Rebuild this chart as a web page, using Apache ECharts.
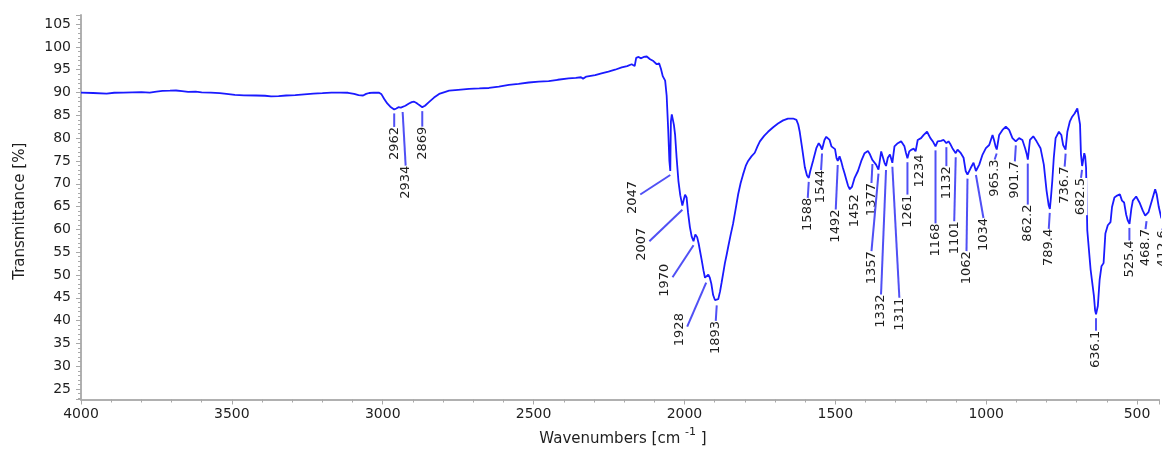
<!DOCTYPE html>
<html>
<head>
<meta charset="utf-8">
<title>IR spectrum</title>
<script src="https://cdn.jsdelivr.net/npm/echarts@6/dist/echarts.min.js"></script>
<style>
  html, body { margin: 0; padding: 0; background: #fff; }
  #chart { width: 1162px; height: 452px; }
</style>
</head>
<body>
<div id="chart"></div>
<script>
// spectrum: wavenumber [cm-1] and transmittance [%]
var waveNumbers = [
  4000, 3960, 3915, 3890, 3860, 3830, 3800, 3772, 3750, 3730, 3705, 3685, 3665, 3645, 3620, 3600,
  3570, 3540, 3518, 3490, 3460, 3420, 3390, 3370, 3345, 3320, 3290, 3260, 3230, 3200, 3170, 3140,
  3115, 3095, 3080, 3065, 3055, 3045, 3030, 3012, 3004, 2995, 2985, 2975, 2962, 2955, 2948, 2940,
  2934, 2925, 2913, 2904, 2896, 2888, 2880, 2869, 2860, 2847, 2830, 2813, 2795, 2780, 2750, 2714,
  2680, 2648, 2615, 2582, 2550, 2516, 2483, 2450, 2420, 2384, 2360, 2343, 2336, 2325, 2296, 2275,
  2252, 2230, 2208, 2190, 2175, 2165, 2160, 2152, 2145, 2135, 2125, 2114, 2103, 2092, 2084, 2078,
  2072, 2064, 2059, 2054, 2050, 2047, 2045, 2042, 2039, 2035, 2031, 2026, 2020, 2014, 2007, 2002,
  1998, 1993, 1988, 1982, 1976, 1970, 1964, 1958, 1953, 1948, 1943, 1937, 1932, 1928, 1921, 1916,
  1911, 1905, 1899, 1893, 1888, 1882, 1877, 1870, 1866, 1860, 1855, 1847, 1839, 1830, 1822, 1814,
  1806, 1797, 1789, 1778, 1767, 1758, 1750, 1736, 1723, 1706, 1690, 1673, 1657, 1640, 1629, 1623,
  1618, 1610, 1601, 1594, 1588, 1583, 1574, 1563, 1555, 1550, 1544, 1536, 1530, 1525, 1519, 1513,
  1507, 1501, 1496, 1492, 1486, 1480, 1475, 1469, 1464, 1458, 1452, 1445, 1436, 1425, 1414, 1403,
  1392, 1385, 1377, 1373, 1365, 1357, 1348, 1342, 1337, 1332, 1326, 1319, 1311, 1304, 1293, 1282,
  1271, 1266, 1261, 1255, 1247, 1240, 1234, 1227, 1216, 1207, 1196, 1185, 1176, 1168, 1161, 1150,
  1141, 1132, 1125, 1118, 1112, 1101, 1095, 1084, 1075, 1068, 1062, 1051, 1042, 1034, 1023, 1012,
  1001, 990, 979, 974, 969, 965, 957, 946, 935, 924, 913, 902, 891, 880, 871, 866,
  862, 855, 844, 833, 820, 809, 800, 793, 789, 785, 781, 776, 770, 759, 751, 745,
  737, 731, 723, 715, 707, 698, 693, 689, 686, 682, 679, 675, 672, 669, 665, 654,
  643, 639, 636, 630, 624, 618, 611, 605, 597, 588, 583, 575, 566, 557, 550, 543,
  536, 531, 525, 519, 514, 503, 492, 481, 473, 469, 462, 451, 440, 435, 428, 420,
  413, 405
];
var transmittance = [
  90.0, 89.9, 89.75, 89.95, 90.0, 90.05, 90.1, 90.0, 90.2, 90.35, 90.4, 90.45, 90.3, 90.15, 90.2, 90.05,
  90.0, 89.85, 89.7, 89.5, 89.4, 89.35, 89.3, 89.15, 89.2, 89.35, 89.45, 89.6, 89.75, 89.85, 90.0, 90.0,
  89.95, 89.7, 89.45, 89.35, 89.7, 89.9, 90.0, 89.95, 89.6, 88.6, 87.6, 86.9, 86.3, 86.5, 86.8, 86.7,
  86.6, 87.1, 87.6, 87.9, 88.0, 87.7, 87.3, 86.8, 87.1, 87.9, 88.9, 89.7, 90.1, 90.4, 90.6, 90.8,
  90.9, 91.0, 91.3, 91.7, 91.9, 92.2, 92.4, 92.5, 92.8, 93.1, 93.2, 93.35, 93.05, 93.5, 93.8, 94.2,
  94.6, 95.0, 95.5, 95.8, 96.2, 95.8, 97.6, 97.8, 97.5, 97.8, 97.9, 97.3, 96.9, 96.2, 96.4, 95.2,
  93.6, 92.6, 89.3, 82.0, 75.0, 72.8, 83.6, 85.2, 84.8, 82.9, 80.7, 75.7, 70.6, 67.5, 65.2, 66.6,
  67.6, 67.0, 63.6, 60.5, 58.4, 57.4, 58.9, 58.3, 56.9, 55.1, 53.3, 51.0, 49.4, 49.2, 50.1, 49.4,
  48.1, 45.6, 44.5, 44.2, 44.7, 46.4, 48.3, 51.0, 52.6, 54.5, 56.2, 58.8, 61.2, 64.6, 67.7, 70.1,
  72.0, 73.9, 75.0, 76.0, 76.8, 78.2, 79.3, 80.5, 81.4, 82.4, 83.2, 83.9, 84.3, 84.3, 84.0, 83.0,
  81.4, 77.8, 73.6, 71.8, 71.3, 72.8, 75.0, 77.8, 78.9, 78.4, 77.5, 79.6, 80.3, 80.6, 79.6, 78.2,
  78.5, 77.6, 75.6, 75.0, 76.0, 74.8, 73.5, 72.2, 71.0, 69.6, 68.8, 69.3, 71.3, 72.8, 75.0, 76.7,
  77.2, 76.4, 75.2, 75.1, 74.2, 73.1, 77.1, 76.7, 74.6, 73.9, 75.7, 76.4, 74.6, 78.2, 78.9, 79.3,
  78.2, 76.8, 75.6, 77.1, 77.5, 77.7, 77.1, 79.6, 80.0, 80.7, 81.4, 80.0, 79.2, 78.2, 79.3, 79.4,
  79.6, 78.9, 79.3, 78.6, 77.8, 76.7, 77.5, 76.7, 75.7, 72.8, 72.0, 73.5, 74.6, 72.8, 74.2, 76.4,
  77.8, 78.5, 80.7, 79.6, 78.2, 77.5, 80.7, 81.8, 82.5, 81.8, 80.0, 79.3, 80.0, 79.6, 77.8, 76.6,
  75.3, 79.6, 80.4, 79.3, 77.8, 74.2, 68.5, 65.3, 64.5, 67.3, 70.6, 75.7, 80.0, 81.4, 80.7, 78.5,
  77.5, 81.4, 83.6, 84.7, 85.4, 86.5, 86.8, 83.0, 76.5, 73.9, 75.0, 76.7, 76.0, 73.5, 59.8, 51.2,
  45.4, 42.2, 41.4, 43.2, 49.0, 51.9, 52.6, 59.1, 60.9, 61.6, 64.9, 67.0, 67.4, 67.7, 66.3, 65.9,
  63.2, 62.0, 61.2, 64.5, 66.3, 67.2, 65.9, 64.1, 63.0, 62.7, 63.8, 66.3, 68.8, 67.7, 64.9, 62.6,
  61.8, 63.0
];

// labelled peaks
var peakWn = [2962, 2934, 2869, 2047, 2007, 1970, 1928, 1893, 1588, 1544, 1492, 1452, 1377, 1357, 1332, 1311,
  1261, 1234, 1168, 1132, 1101, 1062, 1034, 965.3, 901.7, 862.2, 789.4, 736.7, 682.5, 636.1, 525.4, 468.7, 412.6];
var peakT = [86.3, 86.6, 86.8, 72.8, 65.2, 57.4, 49.2, 44.2, 71.3, 77.5, 75.0, 68.8, 75.2, 73.1, 73.9, 74.6,
  75.6, 77.1, 78.2, 78.9, 76.7, 72.0, 72.8, 77.5, 79.3, 75.3, 64.5, 77.5, 73.9, 41.4, 61.2, 62.7, 61.8];
var peakText = ['2962', '2934', '2869', '2047', '2007', '1970', '1928', '1893', '1588', '1544', '1492', '1452',
  '1377', '1357', '1332', '1311', '1261', '1234', '1168', '1132', '1101', '1062', '1034', '965.3', '901.7',
  '862.2', '789.4', '736.7', '682.5', '636.1', '525.4', '468.7', '412.6'];

// label placement in px from the peak: [dx, dy, attach at side]
var labelLayout = [
  [0, 17.5, 0], [3, 57.6, 0], [0, 19.5, 0], [-30, 23.5, 1], [-33, 35.6, 1], [-21, 36, 1], [-19, 48, 1],
  [-1, 19.5, 0], [-1, 20, 0], [-1, 20.5, 0], [-2, 48.6, 0], [5, 5, 0], [-1, 23, 0], [-7, 81.5, 0],
  [-5, 128.6, 0], [7, 135, 0], [0, 36.4, 0], [4, 3, 0], [0, 77, 0], [0, 23, 0], [-1.5, 68, 0],
  [-1, 76.5, 0], [7.5, 47, 0], [-2, 10, 0], [-1, 20, 0], [0, 45, 0], [-1, 20, 0], [-1, 17, 0],
  [-1, 12, 0], [0, 16.5, 0], [0, 16.5, 0], [-1, 12, 0], [-1, 9, 0]
];

var FONT = '"DejaVu Sans", Verdana, sans-serif';
var TEXT = '#1e1e1e';
var CURVE = '#1a1aff';
var LEADER = '#5050f5';

var spectrum = waveNumbers.map(function (w, i) { return [w, transmittance[i]]; });
var peaks = peakWn.map(function (w, i) { return [w, peakT[i]]; });

var chart = echarts.init(document.getElementById('chart'));

chart.setOption({
  animation: false,
  backgroundColor: '#fff',
  grid: { left: 81, right: 0, top: 15, bottom: 47 },
  xAxis: {
    type: 'value',
    inverse: true,
    min: 427.3,
    max: 4000,
    splitNumber: 7,
    name: '{a|Wavenumbers [cm }{s|-1}{a| ]}',
    nameLocation: 'middle',
    nameGap: 27,
    nameTextStyle: {
      padding: [0, 0, 0, 6],
      rich: {
        a: { fontSize: 15, fontFamily: FONT, color: TEXT, lineHeight: 26 },
        s: { fontSize: 11, fontFamily: FONT, color: TEXT, lineHeight: 12, verticalAlign: 'top' }
      }
    },
    axisLine: { onZero: false, lineStyle: { color: '#b0b0b0', width: 2 } },
    axisTick: { length: 5, lineStyle: { color: '#a8a8a8' } },
    minorTick: { show: true, splitNumber: 5, length: 3, lineStyle: { color: '#a8a8a8' } },
    axisLabel: {
      fontSize: 14, fontFamily: FONT, color: TEXT, margin: 8,
      formatter: function (v) { return v % 500 === 0 ? String(v) : ''; }
    },
    splitLine: { show: false }
  },
  yAxis: {
    type: 'value',
    min: 22.7,
    max: 107,
    splitNumber: 17,
    name: 'Transmittance [%]',
    nameLocation: 'middle',
    nameGap: 53,
    nameTextStyle: { fontSize: 15, fontFamily: FONT, color: TEXT, padding: [0, 8, 0, 0] },
    axisLine: { show: true, onZero: false, lineStyle: { color: '#b0b0b0', width: 2 } },
    axisTick: { show: true, length: 5, lineStyle: { color: '#a8a8a8' } },
    minorTick: { show: true, splitNumber: 5, length: 3, lineStyle: { color: '#a8a8a8' } },
    axisLabel: {
      fontSize: 14, fontFamily: FONT, color: TEXT, margin: 10,
      formatter: function (v) { return v % 5 === 0 ? String(v) : ''; }
    },
    splitLine: { show: false }
  },
  series: [
    {
      type: 'line',
      data: spectrum,
      showSymbol: false,
      z: 2,
      lineStyle: { color: CURVE, width: 1.8 }
    },
    {
      // peak labels with leader lines
      type: 'custom',
      data: peaks,
      z: 3,
      clip: false,
      renderItem: function (params, api) {
        var i = params.dataIndex;
        var p = api.coord([api.value(0), api.value(1)]);
        var lay = labelLayout[i];
        var ex = p[0] + lay[0], ey = p[1] + lay[1];
        var kids = [];
        if (lay[1] > 6) {
          kids.push({
            type: 'line', z2: 10,
            shape: { x1: p[0], y1: p[1] + 4, x2: ex, y2: ey },
            style: { stroke: LEADER, lineWidth: 2 }
          });
        }
        var side = lay[2] === 1;
        kids.push({
          type: 'text', z2: 5,
          x: side ? ex - 1 : ex,
          y: side ? ey + 3 : ey,
          rotation: Math.PI / 2,
          style: {
            text: peakText[i],
            fill: TEXT,
            font: '13px ' + FONT,
            align: side ? 'center' : 'right',
            verticalAlign: side ? 'bottom' : 'middle',
            backgroundColor: '#fff'
          }
        });
        return { type: 'group', children: kids };
      }
    }
  ]
});
</script>
</body>
</html>
